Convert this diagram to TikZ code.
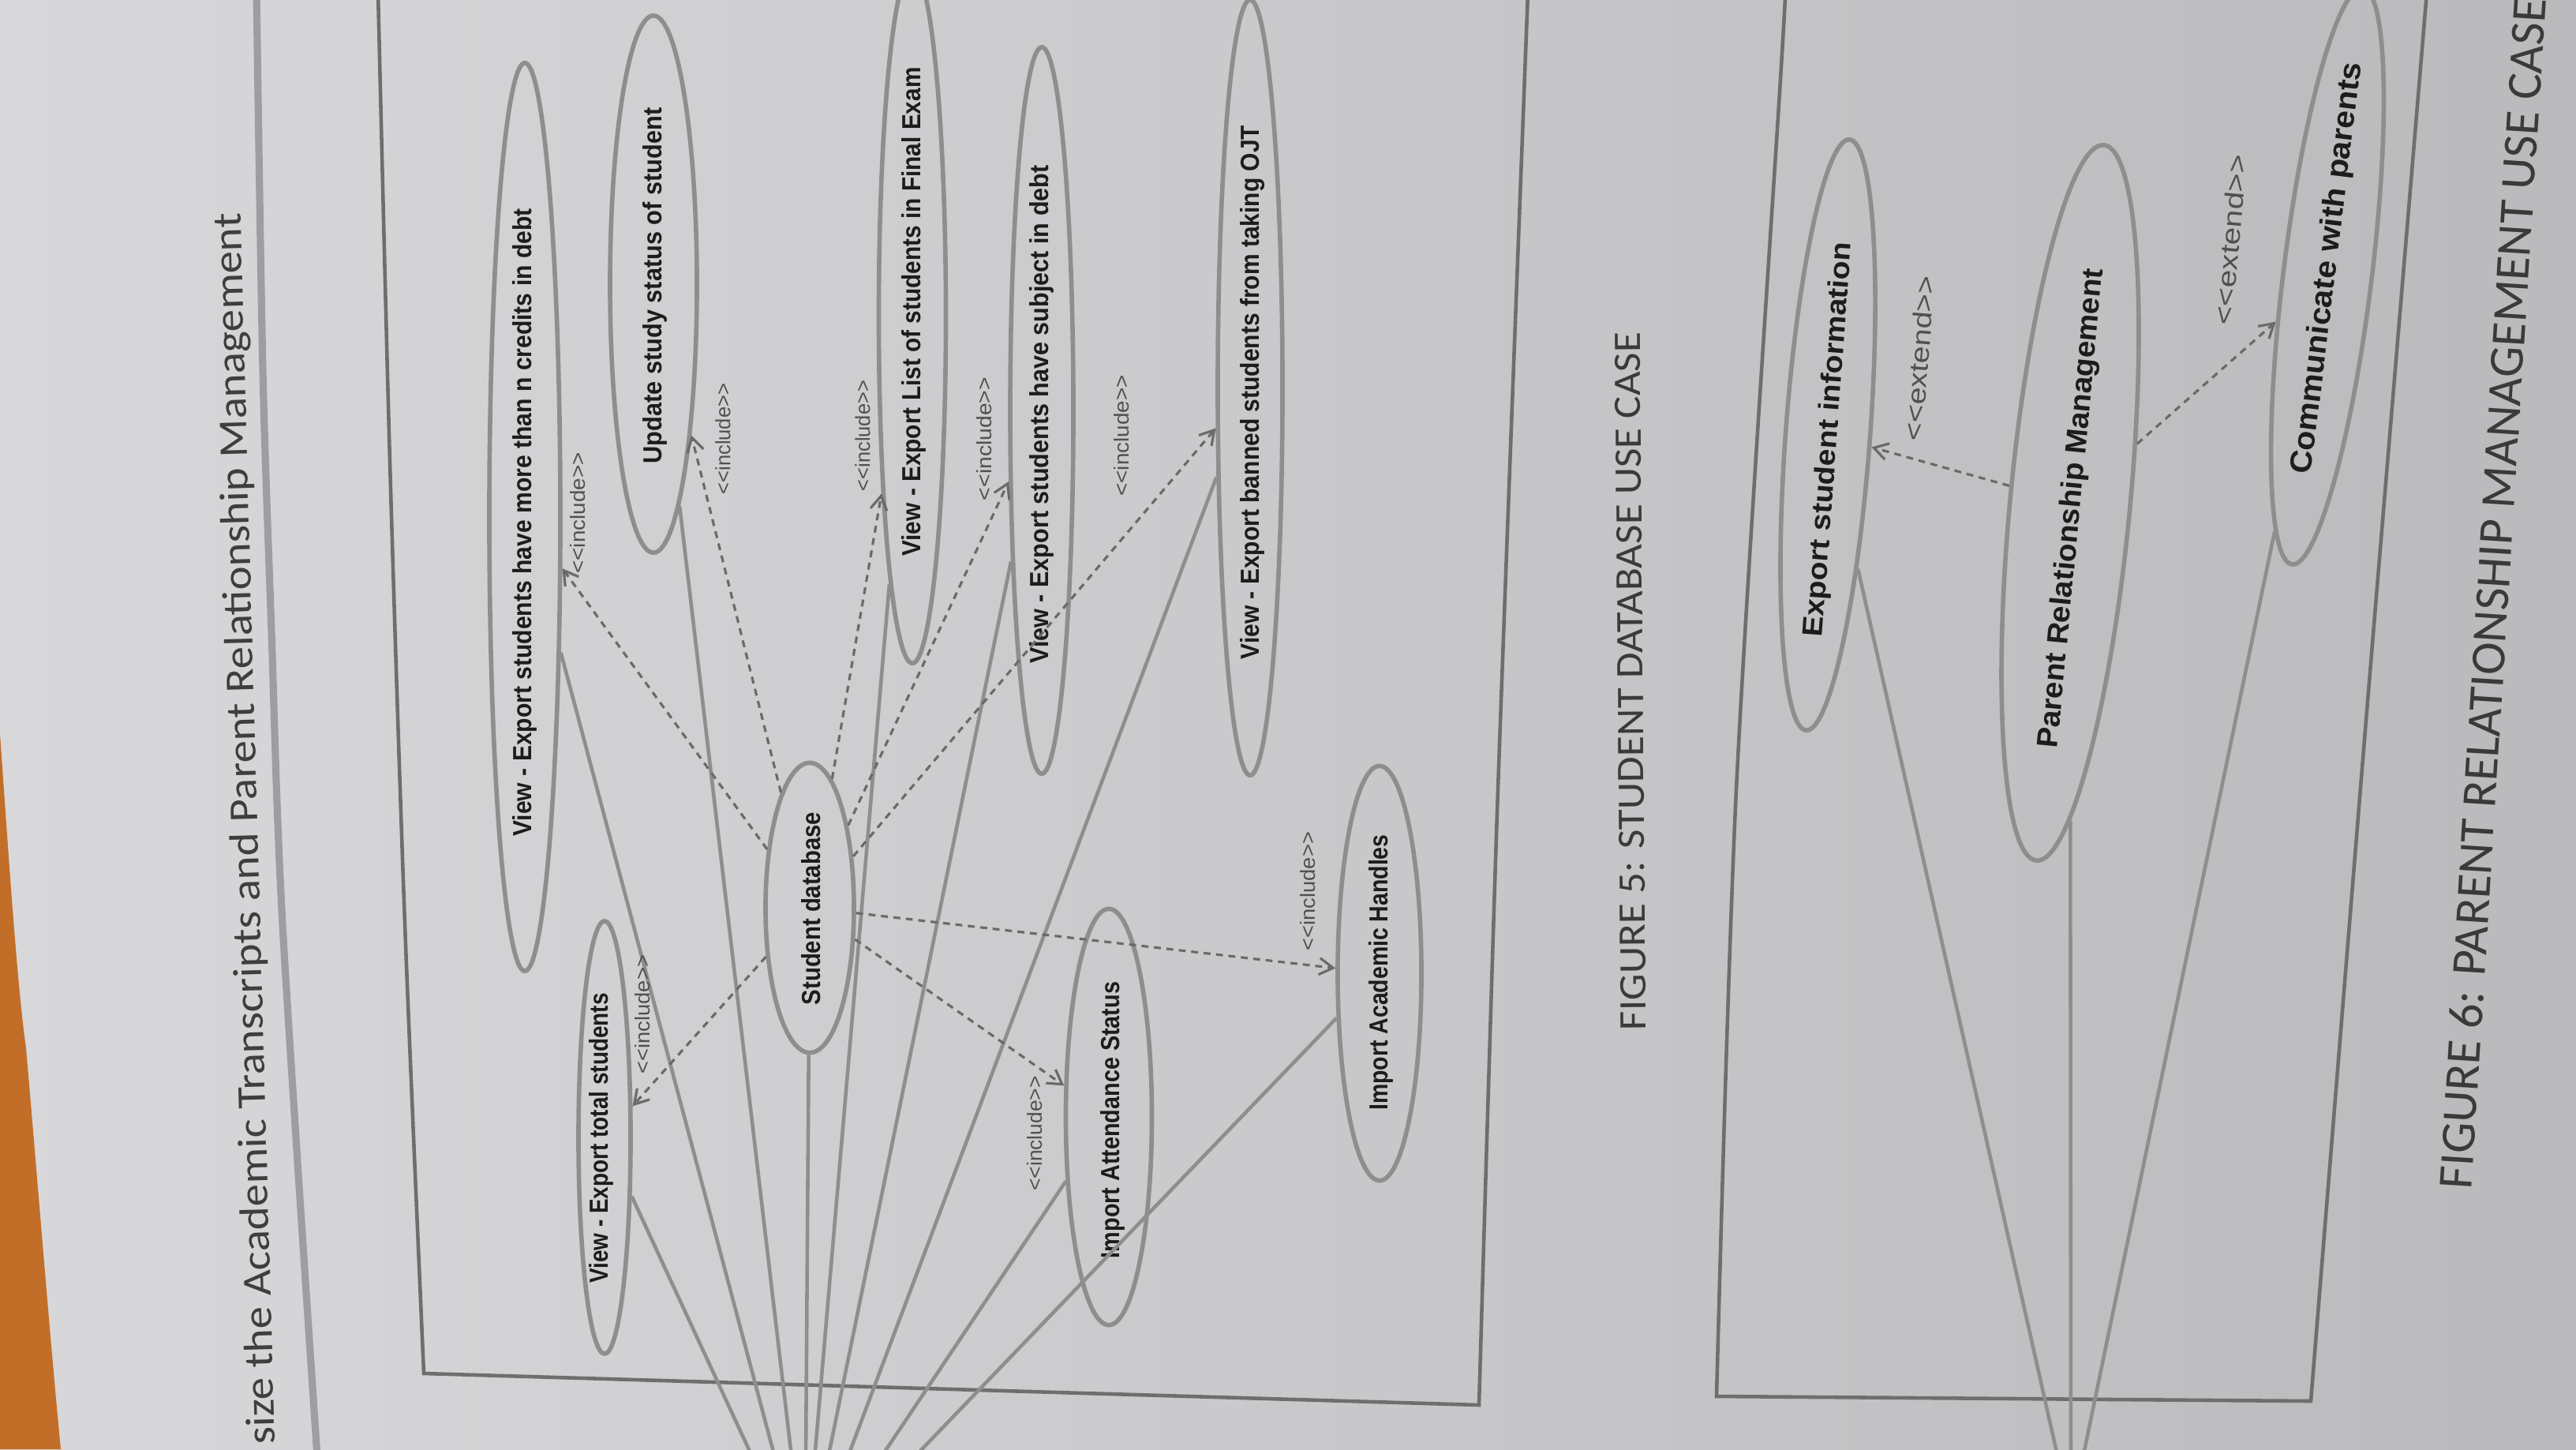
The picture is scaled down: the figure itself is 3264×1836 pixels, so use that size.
\documentclass[tikz,border=0pt]{standalone}
\usepackage{graphicx}
\usepackage{fontspec}
\setmainfont{Liberation Sans}
\newfontfamily\capfont{Carlito}
\usetikzlibrary{shapes.geometric,arrows.meta}
\definecolor{paperL}{HTML}{D8D8DA}
\definecolor{paperR}{HTML}{BABABC}
\definecolor{tablec}{HTML}{C26E28}
\definecolor{ucline}{HTML}{8E8E8E}
\definecolor{frameline}{HTML}{6E6E6E}
\definecolor{dashline}{HTML}{6A6A6A}
\definecolor{txt}{HTML}{1C1C1C}
\definecolor{lbltxt}{HTML}{505050}
\definecolor{capc}{HTML}{3A3A3A}
\definecolor{rulec}{HTML}{9E9EA0}
\newcommand\inclt{<\kern0pt<include>\kern0pt>}
\newcommand\extt{<\kern0pt<extend>\kern0pt>}
\tikzset{
  uc/.style={ellipse, draw=ucline, line width=1.6pt, inner sep=0pt},
  uctext/.style={text=txt, inner sep=0pt, font=\bfseries},
  assoc/.style={draw=ucline, line width=1.3pt},
  incl/.style={draw=dashline, line width=0.9pt, dash pattern=on 2.5pt off 2pt, -{Straight Barb[length=5pt,width=6pt]}},
  stereo/.style={text=lbltxt, inner sep=0pt},
  boundary/.style={draw=frameline, line width=1.3pt},
  captext/.style={text=capc, inner sep=0pt},
}
\begin{document}
\begin{tikzpicture}[x=0.01cm, y=-0.01cm]
\useasboundingbox (0,0) rectangle (3264,1836);
% paper and table
\shade[left color=paperL, right color=paperR] (0,0) rectangle (3264,1836);
\fill[tablec] (0,930) .. controls (12,1100) and (22,1250) .. (33,1328) .. controls (48,1500) and (62,1680) .. (77,1836) -- (0,1836) -- cycle;
% header rule
\draw[rulec, line width=2.6pt] plot[smooth] coordinates {(325,-10) (333,468) (344,800) (358,1171) (402,1846)};
% title
\node[rotate=91.6, text=txt!85, inner sep=0pt] (title) at (313,1050)
  {\resizebox{15.6cm}{0.36cm}{\capfont size the Academic Transcripts and Parent Relationship Management}};

% ---------------- Figure 5 ----------------
\draw[boundary] plot[smooth] coordinates {(479,-10) (494,585) (513,1171) (537,1740)}
  -- (1874,1780) -- plot[smooth] coordinates {(1874,1780) (1898,1000) (1936,-10)};

\coordinate (act1) at (1020,1990);
\node[uc, minimum width=0.90cm, minimum height=11.5cm] (e1) at (665,655) {};
\node[uc, minimum width=1.10cm, minimum height=6.8cm] (e2) at (828,360) {};
\node[uc, minimum width=0.66cm, minimum height=5.48cm] (e3) at (766,1441) {};
\node[uc, minimum width=1.12cm, minimum height=3.67cm] (e4) at (1026,1150) {};
\node[uc, minimum width=1.09cm, minimum height=5.27cm] (e5) at (1405,1415) {};
\node[uc, minimum width=1.06cm, minimum height=5.25cm] (e6) at (1748,1233) {};
\node[uc, minimum width=0.85cm, minimum height=8.8cm] (e7) at (1156,400) {};
\node[uc, minimum width=0.80cm, minimum height=9.2cm] (e8) at (1320,520) {};
\node[uc, minimum width=0.82cm, minimum height=9.82cm] (e9) at (1584,491) {};

\node[uctext, rotate=90] (t1) at (665,662) {\resizebox{7.95cm}{0.24cm}{View - Export students have more than n credits in debt}};
\node[uctext, rotate=90] (t2) at (830,362) {\resizebox{4.51cm}{0.24cm}{Update study status of student}};
\node[uctext, rotate=90] (t3) at (762,1442) {\resizebox{3.67cm}{0.24cm}{View - Export total students}};
\node[uctext, rotate=90] (t4) at (1028,1151) {\resizebox{2.44cm}{0.24cm}{Student database}};
\node[uctext, rotate=90] (t5) at (1410,1419) {\resizebox{3.50cm}{0.24cm}{Import Attendance Status}};
\node[uctext, rotate=90] (t6) at (1750,1232) {\resizebox{3.49cm}{0.24cm}{Import Academic Handles}};
\node[uctext, rotate=90] (t7) at (1158,395) {\resizebox{6.19cm}{0.24cm}{View - Export List of students in Final Exam}};
\node[uctext, rotate=90] (t8) at (1320,525) {\resizebox{6.31cm}{0.24cm}{View - Export students have subject in debt}};
\node[uctext, rotate=90] (t9) at (1587,497) {\resizebox{6.76cm}{0.24cm}{View - Export banned students from taking OJT}};

\foreach \e in {e1,e2,e3,e4,e5,e6,e7,e8,e9} \draw[assoc] (act1) -- (\e);
\foreach \e in {e1,e2,e3,e5,e6,e7,e8,e9} \draw[incl] (e4) -- (\e);

\node[stereo, rotate=90] (s1) at (814,1285) {\resizebox{1.50cm}{0.19cm}{\inclt}};
\node[stereo, rotate=90] (s2) at (732,650) {\resizebox{1.53cm}{0.19cm}{\inclt}};
\node[stereo, rotate=90] (s3) at (916,556) {\resizebox{1.40cm}{0.19cm}{\inclt}};
\node[stereo, rotate=90] (s4) at (1093,552) {\resizebox{1.40cm}{0.19cm}{\inclt}};
\node[stereo, rotate=90] (s5) at (1247,556) {\resizebox{1.56cm}{0.19cm}{\inclt}};
\node[stereo, rotate=90] (s6) at (1421,552) {\resizebox{1.53cm}{0.19cm}{\inclt}};
\node[stereo, rotate=90] (s7) at (1311,1436) {\resizebox{1.45cm}{0.19cm}{\inclt}};
\node[stereo, rotate=90] (s8) at (1657,1129) {\resizebox{1.50cm}{0.19cm}{\inclt}};

\node[captext, rotate=90.5] (cap5) at (2066,863) {\resizebox{8.84cm}{0.32cm}{\capfont FIGURE 5: STUDENT DATABASE USE CASE}};

% ---------------- Figure 6 ----------------
\draw[boundary] plot[smooth] coordinates {(2262,-10) (2256,100) (2200,1000) (2175,1769)}
  -- (2928,1775) -- plot[smooth] coordinates {(2928,1775) (2999,900) (3075,-10)};

\coordinate (act2) at (2624,1920);
\node[uc, rotate=-4.2, minimum width=1.07cm, minimum height=7.5cm] (f1) at (2316,551) {};
\node[uc, rotate=-5.4, minimum width=1.52cm, minimum height=9.1cm] (f2) at (2623,637) {};
\node[uc, rotate=-7, minimum width=1.12cm, minimum height=7.35cm] (f3) at (2949,350) {};

\node[uctext, rotate=85.8] (u1) at (2318,557) {\resizebox{5.01cm}{0.26cm}{Export student information}};
\node[uctext, rotate=84.6] (u2) at (2626,644) {\resizebox{6.09cm}{0.27cm}{Parent Relationship Management}};
\node[uctext, rotate=83] (u3) at (2950,340) {\resizebox{5.25cm}{0.28cm}{Communicate with parents}};

\foreach \e in {f1,f2,f3} \draw[assoc] (act2) -- (\e);
\draw[incl] (f2) -- (f1);
\draw[incl] (f2) -- (f3);

\node[stereo, rotate=85.5] (x1) at (2432,454) {\resizebox{2.10cm}{0.24cm}{\extt}};
\node[stereo, rotate=85] (x2) at (2826,304) {\resizebox{2.16cm}{0.24cm}{\extt}};

\node[captext, rotate=86.4] (cap6) at (3158,752) {\resizebox{15.1cm}{0.42cm}{\capfont FIGURE 6: PARENT RELATIONSHIP MANAGEMENT USE CASE}};
\end{tikzpicture}
\end{document}
